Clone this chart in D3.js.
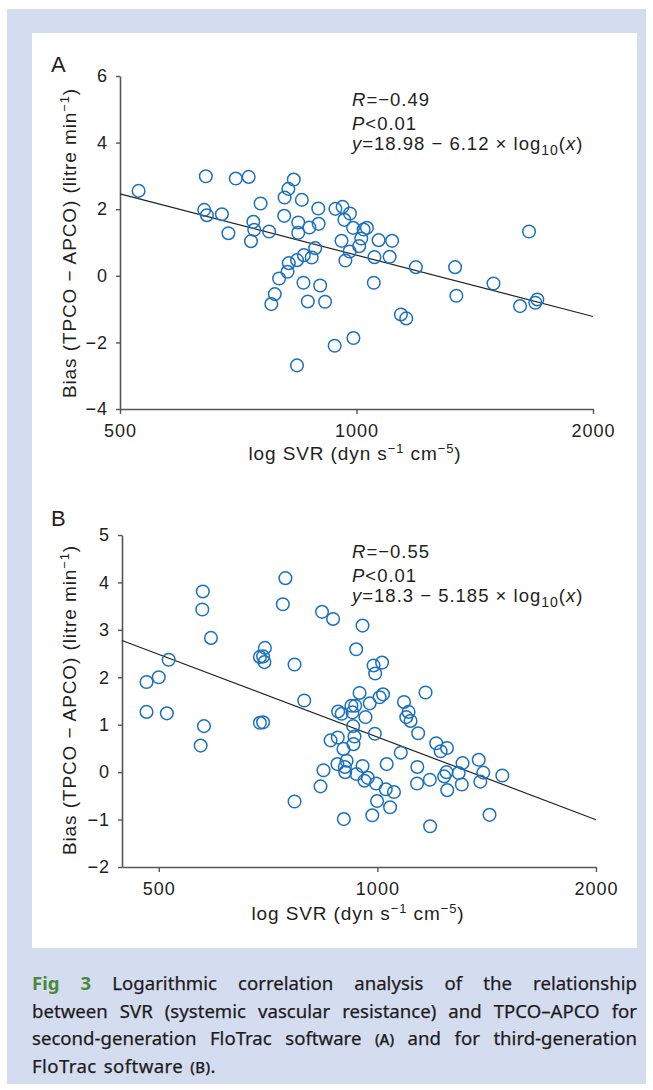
<!DOCTYPE html>
<html>
<head>
<meta charset="utf-8">
<script src="https://cdn.jsdelivr.net/npm/d3@7"></script>
<style>
body { margin: 0; background: #fff; }
#wrap { position: relative; width: 653px; height: 1090px; }
svg { position: absolute; left: 0; top: 0; }
.cap { position: absolute; left: 32px; top: 969px; width: 605px;
       font-family: "Noto Sans", sans-serif; font-size: 18.6px; color: #1e1b1c;
       -webkit-text-stroke: 0.25px #1e1b1c; }
.cap div { height: 27.7px; line-height: 27.7px; text-align: justify; text-align-last: justify; white-space: nowrap; }
.cap div.last { text-align: left; text-align-last: left; word-spacing: 2px; letter-spacing: 0.4px; }
.cap b { color: #4a8a3a; -webkit-text-stroke: 0; }
.sc { font-variant: small-caps; }
</style>
</head>
<body>
<div id="wrap">
<svg width="653" height="1090"></svg>
<div class="cap">
  <div><b>Fig 3</b> Logarithmic correlation analysis of the relationship</div>
  <div>between SVR (systemic vascular resistance) and TPCO–APCO for</div>
  <div>second-generation FloTrac software <span class="sc">(a)</span> and for third-generation</div>
  <div class="last">FloTrac software <span class="sc">(b)</span>.</div>
</div>
</div>
<script>
// panel A: second-generation software
const svrA = [528,643,640,645,674,687,702,729,755,739,741,734,774,809,810,819,832,852,843,843,
  871,895,894,886,857,877,840,820,940,960,981,965,990,1021,1031,1014,1008,957,1067,1110,
  980,968,1054,1102,1190,1052,1139,1157,817,797,787,779,856,899,867,912,938,991,840,1335,
  1340,1494,1615,1689,1699,1658];
const biasA = [2.55,2.99,1.98,1.82,1.85,1.28,2.92,2.97,2.17,1.62,1.38,1.04,1.33,1.80,2.35,2.61,2.89,2.28,1.60,1.29,
  1.45,1.56,2.02,0.83,0.62,0.55,0.47,0.38,2.01,2.07,1.87,1.68,1.44,1.39,1.44,1.12,0.89,1.05,1.07,1.05,
  0.73,0.46,0.56,0.57,0.26,-0.21,-1.16,-1.28,0.12,-0.08,-0.55,-0.85,-0.21,-0.29,-0.77,-0.78,-2.10,-1.87,-2.69,0.26,
  -0.60,-0.23,-0.91,-0.81,-0.71,1.33];

// panel B: third-generation software
const svrB = [481,500,516,481,513,575,574,590,700,696,689,699,747,741,769,793,839,869,883,577,
  571,689,696,862,882,843,881,835,769,
  935,988,1015,993,945,1018,1007,976,932,921,893,924,963,926,1165,1088,1104,1096,1111,1138,
  992,930,927,898,1077,1205,1247,1222,907,902,903,954,936,1030,1135,960,970,996,1027,1054,
  999,1041,984,899,1134,1181,1236,1245,1248,1294,1310,1307,1379,1399,1386,1486,1427,1182,954];
const biasB = [1.90,2.00,2.37,1.27,1.24,3.81,3.43,2.83,2.62,2.44,2.43,2.32,4.09,3.54,2.27,1.51,3.38,3.23,1.28,0.97,
  0.56,1.04,1.05,0.67,0.73,0.04,0.17,-0.30,-0.62,
  2.59,2.25,2.31,2.08,1.67,1.64,1.58,1.45,1.40,1.40,1.23,1.26,1.16,0.97,1.68,1.48,1.27,1.16,1.08,0.82,
  0.81,0.75,0.59,0.49,0.41,0.61,0.51,0.44,0.24,0.11,0.00,0.13,-0.04,0.17,0.11,-0.18,-0.12,-0.24,-0.36,-0.42,
  -0.61,-0.74,-0.91,-0.99,-0.24,-0.16,-0.09,0.00,-0.38,-0.02,0.19,-0.26,0.26,-0.01,-0.20,-0.07,-0.90,-1.14,3.09];

// fitted lines: intercept, slope on log10(x)
const fitA = [18.98, -6.12];
const fitB = [18.11, -5.79];

const xTicks = [500, 1000, 2000];
const yTicksA = [-4, -2, 0, 2, 4, 6];
const yTicksB = [-2, -1, 0, 1, 2, 3, 4, 5];

const statsA = ["−0.49", "<0.01", "18.98 − 6.12 × log"];
const statsB = ["−0.55", "<0.01", "18.3 − 5.185 × log"];

const FONT = "'Liberation Sans', Arial, sans-serif";
const INK = "#231f20";
const BLUE = "#1b71bf";

const svg = d3.select("svg");

svg.append("rect").attr("x", 7).attr("y", 9).attr("width", 639).attr("height", 1075).attr("fill", "#d4ddef");
svg.append("rect").attr("x", 32).attr("y", 33).attr("width", 605).attr("height", 915).attr("fill", "#fff");

function drawPanel(opt) {
    const x = d3.scaleLog().domain(opt.xDomain).range(opt.xRange);
    const y = d3.scaleLinear().domain(opt.yDomain).range(opt.yRange);
    const g = svg.append("g");

    const xAxis = g.append("g")
        .attr("transform", `translate(0,${opt.yRange[0]})`)
        .call(d3.axisBottom(x).tickValues(xTicks).tickFormat(d3.format("d"))
            .tickSize(5).tickSizeOuter(0).tickPadding(10));
    const yAxis = g.append("g")
        .attr("transform", `translate(${opt.xRange[0]},0)`)
        .call(d3.axisLeft(y).tickValues(opt.yTicks).tickFormat(d3.format("d"))
            .tickSize(4).tickSizeOuter(0).tickPadding(8));

    [xAxis, yAxis].forEach(a => {
        a.attr("font-family", FONT).attr("font-size", 18);
        a.select(".domain").attr("stroke", "#555").attr("stroke-width", 1.6);
        a.selectAll(".tick line").attr("stroke", "#555").attr("stroke-width", 1.4);
        a.selectAll(".tick text").attr("fill", INK).attr("letter-spacing", "1px");
    });

    // regression line
    g.append("path")
        .datum(x.domain())
        .attr("d", d3.line().x(d => x(d)).y(d => y(opt.fit[0] + opt.fit[1] * Math.log10(d))))
        .attr("stroke", "#222")
        .attr("stroke-width", 1.2)
        .attr("fill", "none");

    g.selectAll("circle")
        .data(opt.svr.map((v, i) => [v, opt.bias[i]]))
        .enter()
        .append("circle")
        .attr("cx", d => x(d[0]))
        .attr("cy", d => y(d[1]))
        .attr("r", 6.3)
        .attr("fill", "none")
        .attr("stroke", BLUE)
        .attr("stroke-width", 1.5);

    // panel letter
    g.append("text")
        .attr("x", 51).attr("y", opt.letterY)
        .attr("font-family", FONT).attr("font-size", 22).attr("fill", INK)
        .text(opt.letter);

    // axis titles
    const xt = g.append("text")
        .attr("x", opt.xTitleX)
        .attr("y", opt.xTitleY)
        .attr("text-anchor", "middle")
        .attr("font-family", FONT).attr("font-size", 19).attr("fill", INK)
        .attr("letter-spacing", "0.9px");
    xt.append("tspan").text("log SVR (dyn s");
    xt.append("tspan").attr("dy", -7).attr("font-size", 13).text("−1");
    xt.append("tspan").attr("dy", 7).text(" cm");
    xt.append("tspan").attr("dy", -7).attr("font-size", 13).text("−5");
    xt.append("tspan").attr("dy", 7).text(")");

    const yt = g.append("text")
        .attr("transform", `translate(76,${opt.yTitleY}) rotate(-90)`)
        .attr("text-anchor", "middle")
        .attr("font-family", FONT).attr("font-size", 19).attr("fill", INK)
        .attr("letter-spacing", "0.9px");
    yt.append("tspan").text("Bias (TPCO − APCO) (litre min");
    yt.append("tspan").attr("dy", -7).attr("font-size", 13).text("−1");
    yt.append("tspan").attr("dy", 7).text(")");

    // statistics
    const sx = 352;
    const st = g.append("g").attr("font-family", FONT).attr("font-size", 18.5).attr("fill", INK)
        .attr("letter-spacing", "1px");
    const r = st.append("text").attr("x", sx).attr("y", opt.statY[0]);
    r.append("tspan").attr("font-style", "italic").text("R");
    r.append("tspan").text("=" + opt.stats[0]);
    const p = st.append("text").attr("x", sx).attr("y", opt.statY[1]);
    p.append("tspan").attr("font-style", "italic").text("P");
    p.append("tspan").text(opt.stats[1]);
    const e = st.append("text").attr("x", sx).attr("y", opt.statY[2]);
    e.append("tspan").attr("font-style", "italic").text("y");
    e.append("tspan").text("=" + opt.stats[2]);
    e.append("tspan").attr("dy", 5).attr("font-size", 14).text("10");
    e.append("tspan").attr("dy", -5).text("(");
    e.append("tspan").attr("font-style", "italic").text("x");
    e.append("tspan").text(")");
}

drawPanel({
    svr: svrA, bias: biasA, fit: fitA, stats: statsA, letter: "A",
    xDomain: [500, 2000], xRange: [120, 593],
    yDomain: [-4, 6], yRange: [409, 76], yTicks: yTicksA,
    letterY: 72, yTitleY: 243, xTitleX: 355, xTitleY: 460, statY: [106, 130, 150]
});

drawPanel({
    svr: svrB, bias: biasB, fit: fitB, stats: statsB, letter: "B",
    xDomain: [445, 2000], xRange: [122, 596],
    yDomain: [-2, 5], yRange: [867, 535], yTicks: yTicksB,
    letterY: 526, yTitleY: 700, xTitleX: 358, xTitleY: 920, statY: [558, 582, 602]
});
</script>
</body>
</html>
